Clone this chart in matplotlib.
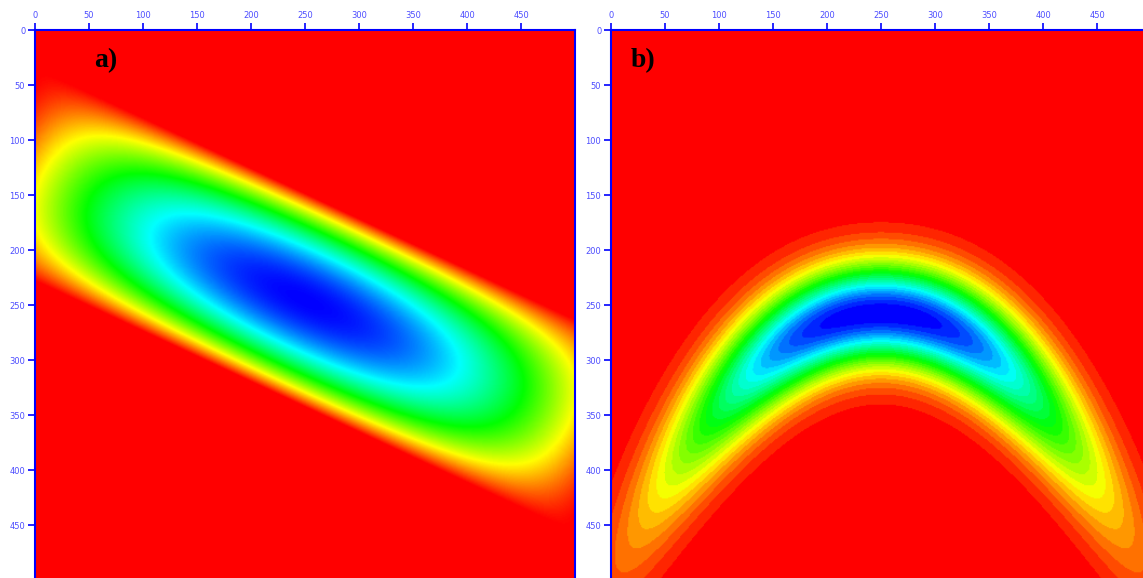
import numpy as np
import matplotlib
matplotlib.use("Agg")
import matplotlib.pyplot as plt
from matplotlib.colors import LinearSegmentedColormap

# ---- data description (field parameters) ----
x_ticks = [0, 50, 100, 150, 200, 250, 300, 350, 400, 450]
y_ticks = [0, 50, 100, 150, 200, 250, 300, 350, 400, 450]
grid_n = 500
panel_labels = ["a)", "b)"]

# panel a: tilted elongated lobe
a_center = (250.0, 246.0)
a_angle_deg = 24.6
a_half_major = 310.0
a_half_minor = 88.0

# panel b: curved band
b_apex = (250.0, 258.0)
b_curv = 0.0036
b_sigma = 32.0
b_sigma_growth = 0.3
b_amp_width = 185.0
b_amp_power = 2.8

# ---- build fields ----
xs = np.arange(grid_n) + 0.5
X, Y = np.meshgrid(xs, xs)

th = np.deg2rad(a_angle_deg)
dx = X - a_center[0]
dy = Y - a_center[1]
u = dx * np.cos(th) + dy * np.sin(th)
v = -dx * np.sin(th) + dy * np.cos(th)
field_a = (np.clip(1 - (u / a_half_major) ** 2, 0, None)
           * np.clip(1 - (v / a_half_minor) ** 2, 0, None))

dxb = X - b_apex[0]
yc = b_apex[1] + b_curv * dxb ** 2
slope = 2 * b_curv * dxb
sig = b_sigma * (1 + slope ** 2) ** b_sigma_growth
amp = np.exp(-(np.abs(dxb) / b_amp_width) ** b_amp_power)
field_b = amp * np.exp(-0.5 * ((Y - yc) / sig) ** 2)

# ---- colormap: red -> yellow -> green -> cyan -> blue ----
nodes = [(0.0, (1, 0, 0)), (0.25, (1, 1, 0)), (0.5, (0, 1, 0)),
         (0.75, (0, 1, 1)), (1.0, (0, 0, 1))]
cmap_a = LinearSegmentedColormap.from_list("hue_a", nodes, N=256)
cmap_b = LinearSegmentedColormap.from_list("hue_b", nodes, N=28)

W, H = 1143, 578
fig = plt.figure(figsize=(W / 100, H / 100), dpi=100)
fig.patch.set_facecolor("white")

spine_col = (0, 0, 1)
label_col = (0.3, 0.3, 1.0)

def make_axes(left_px, field, cmap, label, label_x):
    ax = fig.add_axes([left_px / W, -0.0035, 540 / W, 550 / H])
    ax.imshow(field, cmap=cmap, vmin=0, vmax=1, extent=[0, 500, 500, 0],
              interpolation="bilinear", aspect="auto")
    ax.set_xlim(0, 500)
    ax.set_ylim(500, 0)
    ax.xaxis.tick_top()
    ax.set_xticks(x_ticks)
    ax.set_yticks(y_ticks)
    ax.tick_params(axis="both", direction="out", length=5, width=1.2,
                   color=spine_col, labelcolor=label_col, labelsize=6, pad=2)
    for s in ["top", "left", "right"]:
        ax.spines[s].set_color(spine_col)
        ax.spines[s].set_linewidth(1.5)
    ax.spines["bottom"].set_visible(False)
    ax.text(label_x, 28, label, fontsize=20, fontweight="bold",
            family="Liberation Serif", color="black", va="center", ha="left")
    return ax

make_axes(35, field_a, cmap_a, panel_labels[0], 55)
make_axes(611, field_b, cmap_b, panel_labels[1], 18)

fig.savefig("out.png", dpi=100)
